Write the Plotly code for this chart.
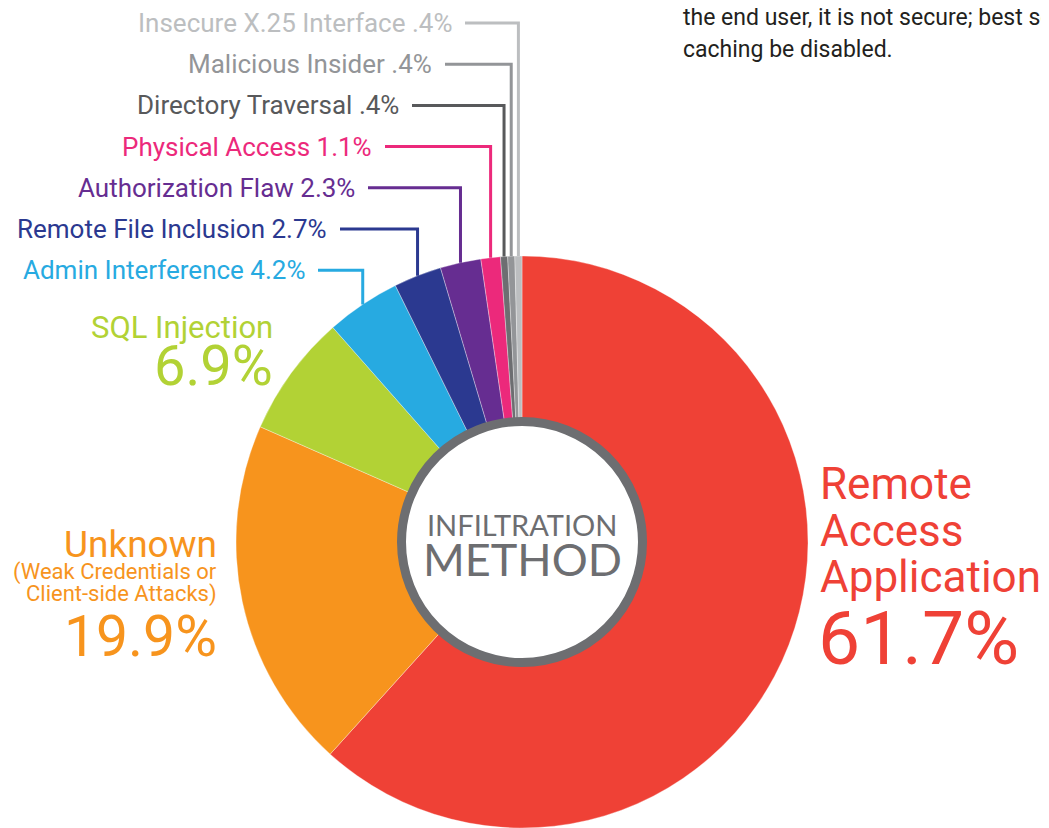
import math
import plotly.graph_objects as go

# ---------------- data ----------------
categories = [
    "Remote Access Application",
    "Unknown",
    "SQL Injection",
    "Admin Interference",
    "Remote File Inclusion",
    "Authorization Flaw",
    "Physical Access",
    "Directory Traversal",
    "Malicious Insider",
    "Insecure X.25 Interface",
]
values = [61.7, 19.9, 6.9, 4.2, 2.7, 2.3, 1.1, 0.4, 0.4, 0.4]
slice_colors = ["#ef4136", "#f7941d", "#b2d235", "#27aae1", "#2b3990",
                "#662d91", "#ec297b", "#6d6e71", "#939598", "#bcbec0"]
label_colors = ["#ef4136", "#f7941d", "#b2d235", "#27aae1", "#2b3990",
                "#662d91", "#ec297b", "#58595b", "#939598", "#bcbec0"]
center_title = ["INFILTRATION", "METHOD"]
side_note = ["the end user, it is not secure; best se", "caching be disabled."]

# ---------------- geometry (pixels of the page) ----------------
W, H = 1049, 828
OFF = 8  # default page body margin
FW, FH = W - OFF, H - OFF
CX, CY, R = 522, 542, 286


def px(x):
    return (x - OFF) / FW


def py(y):
    return 1 - (y - OFF) / FH


def fmt(v):
    s = f"{v:.1f}%"
    return s[1:] if s.startswith("0.") else s


fig = go.Figure()
fig.add_trace(go.Pie(
    labels=categories,
    values=values,
    sort=False,
    direction="clockwise",
    rotation=0,
    hole=0.40,
    marker=dict(colors=slice_colors, line=dict(color="rgba(255,255,255,0.55)", width=0.6)),
    textinfo="none",
    hoverinfo="label+percent",
    showlegend=False,
    domain=dict(x=[px(CX - R), px(CX + R)], y=[0, py(CY - R)]),
))

shapes = []
annotations = []

# centre ring
ring_r = 120.5
shapes.append(dict(type="circle", xref="paper", yref="paper",
                   x0=px(CX - ring_r), x1=px(CX + ring_r),
                   y0=py(CY + ring_r), y1=py(CY - ring_r),
                   fillcolor="white", line=dict(color="#6d6e71", width=9)))
annotations.append(dict(x=px(CX), y=py(524), xref="paper", yref="paper",
                        xanchor="center", yanchor="middle",
                        text=center_title[0], showarrow=False,
                        font=dict(family="Lato", size=29, color="#6d6e71", weight=400)))
annotations.append(dict(x=px(CX), y=py(559), xref="paper", yref="paper",
                        xanchor="center", yanchor="middle",
                        text=center_title[1], showarrow=False,
                        font=dict(family="Lato", size=45, color="#6d6e71", weight=400)))

# small labels with leader lines (rows from top)
cum = []
c = 0
for v in values:
    cum.append(c)
    c += v
total = sum(values)
small_idx = [9, 8, 7, 6, 5, 4, 3]
row_y = [23 + 41.2 * i for i in range(7)]
line_start = [465, 445, 412, 385, 368, 340, 318]
for k, i in enumerate(small_idx):
    ang = 2 * math.pi * (cum[i] + values[i] / 2) / total
    ex = CX + R * math.sin(ang)
    ey = CY - R * math.cos(ang)
    y0 = row_y[k]
    shapes.append(dict(type="path", xref="paper", yref="paper",
                       path=f"M {px(line_start[k])},{py(y0)} L {px(ex)},{py(y0)} L {px(ex)},{py(ey)}",
                       line=dict(color=slice_colors[i] if i < 7 else label_colors[i], width=3)))
    annotations.append(dict(x=px(line_start[k] - 11), y=py(y0), xref="paper", yref="paper",
                            xanchor="right", yanchor="middle", showarrow=False,
                            text=f"{categories[i]} {fmt(values[i])}",
                            font=dict(family="Roboto", size=26, color=label_colors[i])))


def big(x, y, text, size, color, anchor):
    annotations.append(dict(x=px(x), y=py(y), xref="paper", yref="paper",
                            xanchor=anchor, yanchor="middle", showarrow=False,
                            text=text, font=dict(family="Roboto", size=size, color=color)))


# Remote Access Application
for j, word in enumerate(["Remote", "Access", "Application"]):
    big(818, 484 + 46.5 * j, word, 44, label_colors[0], "left")
big(816, 638, fmt(values[0]), 75, label_colors[0], "left")

# SQL Injection
big(275, 327, categories[2], 31, label_colors[2], "right")
big(275, 366, fmt(values[2]), 56, label_colors[2], "right")

# Unknown
big(219, 544, categories[1], 37, label_colors[1], "right")
big(219, 572, "(Weak Credentials or", 22, label_colors[1], "right")
big(219, 594, "Client-side Attacks)", 22, label_colors[1], "right")
big(219, 636, fmt(values[1]), 57, label_colors[1], "right")

# side note (cropped paragraph)
for j, line in enumerate(side_note):
    annotations.append(dict(x=px(681), y=py(17 + 32 * j), xref="paper", yref="paper",
                            xanchor="left", yanchor="middle", showarrow=False,
                            text=line, font=dict(family="Roboto", size=23, color="#231f20")))

fig.update_layout(
    width=FW, height=FH,
    margin=dict(l=0, r=0, t=0, b=0),
    paper_bgcolor="white", plot_bgcolor="white",
    shapes=shapes, annotations=annotations,
)

fig.write_html("out.html")
